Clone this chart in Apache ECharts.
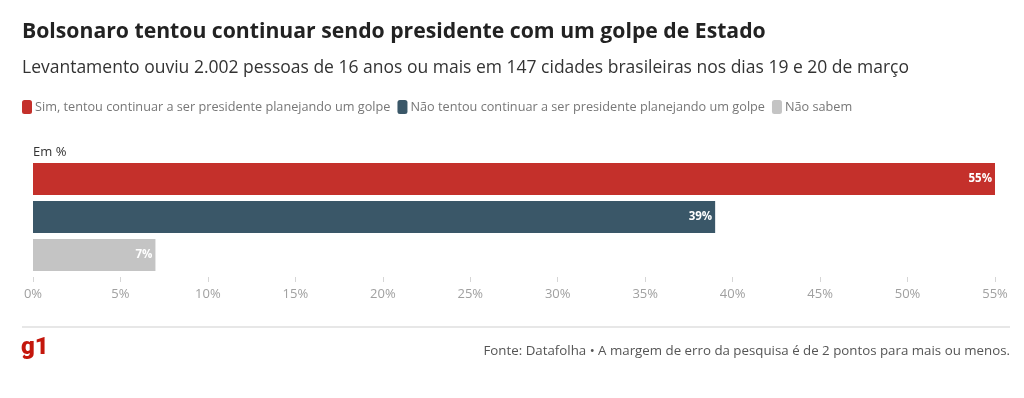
<!DOCTYPE html>
<html>
<head>
<meta charset="utf-8">
<script src="https://cdn.jsdelivr.net/npm/echarts@6/dist/echarts.min.js"></script>
<style>
  html, body { margin: 0; padding: 0; background: #fff; }
  #chart { width: 1024px; height: 398px; }
</style>
</head>
<body>
<div id="chart"></div>
<script>
const categories = [
  'Sim, tentou continuar a ser presidente planejando um golpe',
  'Não tentou continuar a ser presidente planejando um golpe',
  'Não sabem'
]
const values = [55, 39, 7]
const colors = ['#c4302b', '#3a5768', '#c4c4c4']
const xTicks = [0, 5, 10, 15, 20, 25, 30, 35, 40, 45, 50, 55]

const font = '"Open Sans", "Noto Sans", sans-serif'
const chart = echarts.init(document.getElementById('chart'))

// one stacked series per answer so the legend gets three entries
const series = categories.map((name, i) => ({
  name: name,
  type: 'bar',
  stack: 'total',
  barWidth: 32,
  itemStyle: { color: colors[i] },
  label: {
    show: true,
    position: 'insideRight',
    distance: 3,
    formatter: '{c}%',
    color: '#fff',
    fontFamily: font,
    fontSize: 11.5,
    fontWeight: 'bold'
  },
  emphasis: { disabled: true },
  data: categories.map((c, j) => (j === i ? values[i] : '-'))
}))

const option = {
  animation: false,
  textStyle: { fontFamily: font },
  title: [
    {
      text: 'Bolsonaro tentou continuar sendo presidente com um golpe de Estado',
      left: 22,
      top: 21,
      padding: 0,
      textStyle: { fontFamily: font, fontSize: 21.2, fontWeight: 'bold', color: '#222' }
    },
    {
      text: 'Levantamento ouviu 2.002 pessoas de 16 anos ou mais em 147 cidades brasileiras nos dias 19 e 20 de março',
      left: 22,
      top: 59,
      padding: 0,
      textStyle: { fontFamily: font, fontSize: 17.5, fontWeight: 'normal', color: '#333' }
    }
  ],
  legend: {
    left: 22,
    top: 100,
    padding: 0,
    icon: 'roundRect',
    itemWidth: 10,
    itemHeight: 14,
    itemGap: 7,
    itemStyle: { borderWidth: 0 },
    selectedMode: false,
    textStyle: { fontFamily: font, fontSize: 12.7, color: '#777', padding: [0, 0, 0, -2] },
    data: categories
  },
  grid: {
    left: 33,
    right: 29,
    top: 160,
    height: 114
  },
  xAxis: {
    type: 'value',
    min: 0,
    max: 55,
    interval: 5,
    offset: 3,
    axisLine: { show: false },
    axisTick: { show: true, length: 5, lineStyle: { color: '#d6d6d6' } },
    splitLine: { show: false },
    axisLabel: {
      margin: 11,
      color: '#a0a0a0',
      fontFamily: font,
      fontSize: 13,
      formatter: v => (xTicks.indexOf(v) >= 0 ? v + '%' : '')
    }
  },
  yAxis: {
    type: 'category',
    inverse: true,
    data: categories,
    axisLine: { show: false },
    axisTick: { show: false },
    axisLabel: { show: false }
  },
  series: series,
  graphic: [
    {
      type: 'text',
      left: 33,
      top: 146,
      style: { text: 'Em %', fontFamily: font, fontSize: 13, fill: '#333' }
    },
    {
      type: 'line',
      shape: { x1: 22, y1: 327, x2: 1010, y2: 327 },
      style: { stroke: '#cfcfcf', lineWidth: 1 }
    },
    {
      type: 'text',
      left: 21,
      top: 336,
      style: { text: 'g1', fontFamily: 'Roboto, sans-serif', fontSize: 24, fontWeight: 900, fill: '#c4170c' }
    },
    {
      type: 'text',
      right: 14,
      top: 345,
      style: {
        text: 'Fonte: Datafolha • A margem de erro da pesquisa é de 2 pontos para mais ou menos.',
        fontFamily: font,
        fontSize: 13.3,
        fill: '#555'
      }
    }
  ]
}

chart.setOption(option)
</script>
</body>
</html>
